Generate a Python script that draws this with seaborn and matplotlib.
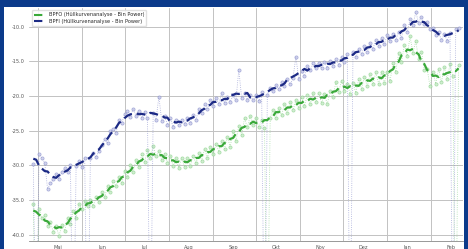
import pandas as pd
import seaborn as sns
import matplotlib.pyplot as plt
import matplotlib.dates as mdates
from matplotlib.patches import Rectangle
from matplotlib.lines import Line2D
from matplotlib.ticker import FormatStrFormatter, FuncFormatter

# one reading every 2 days, starting 28 Apr; DROP = sensor dropout (far below the chart)
start = '2021-04-28'
DROP = -60.0

bpfi = [
    -29.8, DROP, -28.4, -28.9, -29.6, -33.4, -32.6, -32.0, -31.2, -31.9,
    -31.0, -30.4, -30.9, -30.0, DROP, -30.1, -29.4, -30.2, -28.9, DROP,
    -29.0, -28.2, -28.8, -27.9, -27.0, -26.2, -26.8, -25.1, -24.7, -25.3,
    -23.4, -23.9, -22.6, -22.2, -23.0, -21.8, -22.9, -22.1, -23.1, -22.3,
    -23.2, DROP, -22.4, -23.4, -20.1, -23.6, -22.9, -24.1, -23.2, -24.4,
    -23.5, -24.2, -23.4, -24.0, -23.1, -23.9, -22.8, -23.4, -21.9, -22.5,
    -21.2, -21.8, -20.6, -21.4, -20.3, -21.1, -19.6, -21.0, -20.1, -20.8,
    -19.9, -20.6, -16.2, -20.3, -19.6, -20.5, -19.8, -20.6, -19.9, -20.7,
    -19.4, DROP, -19.8, -18.8, -19.3, -18.4, -19.0, -18.0, -18.6, -17.6,
    -18.3, -17.4, -14.3, -17.6, -16.4, -17.1, -15.6, -16.3, -15.3, -16.0,
    -15.2, -16.0, -15.1, -15.9, -14.9, -15.6, -14.7, -15.5, -14.4, -15.1,
    -14.0, DROP, -13.6, -14.4, -13.2, -14.0, -12.8, -13.6, -12.3, -13.2,
    -11.9, -12.8, -11.6, -12.5, -11.2, -12.1, -11.0, -11.9, -10.7, -11.6,
    -9.8, -10.8, -8.9, -9.8, -7.9, -9.4, -8.6, -9.6, -9.3, -10.4,
    -10.2, -11.2, -10.8, -11.9, -11.1, -12.0, -10.9, DROP, -10.4, -10.2,
]

bpfo = [
    -35.6, DROP, -36.3, -37.6, -37.2, -38.8, -38.2, -39.6, -38.7, -40.2,
    -38.6, -39.4, -37.6, -38.5, -36.6, -37.6, -35.5, -36.3, -35.2, -35.9,
    -35.0, -35.8, -34.6, -35.3, -33.8, -34.6, -33.0, -33.8, -32.2, -33.0,
    -31.7, -32.6, -30.8, -31.7, -30.0, -30.9, -29.2, -30.2, -28.4, -29.5,
    -27.8, -28.9, -27.2, -28.7, -27.9, -29.2, -28.3, -29.6, -28.6, -30.1,
    -29.0, -30.3, -28.9, -30.2, -29.0, -30.1, -28.6, -29.7, -28.2, -29.3,
    -27.6, -28.9, -27.3, -28.4, -26.9, -28.0, -26.5, -27.6, -25.9, -27.3,
    -25.1, -26.5, -24.3, -25.6, -23.2, -24.5, -22.9, -24.1, -23.2, -24.5,
    -23.4, -24.6, DROP, -23.1, -22.0, -23.2, -21.7, -22.8, -21.1, -22.4,
    -20.9, -22.0, -20.6, -21.7, -20.2, -21.4, -19.9, -21.2, -19.6, -20.9,
    -19.5, -21.0, -19.7, -21.2, -19.3, -20.2, -18.0, -19.4, -17.8, -19.2,
    -18.2, -19.7, -18.1, -19.5, -17.6, -19.0, -17.2, -18.6, -16.8, -18.3,
    -16.6, -18.2, -16.6, -18.1, -16.5, -17.8, -15.3, -16.5, -13.8, -15.1,
    -12.6, -14.2, -11.4, -13.8, -12.1, -14.6, -13.6, -16.2, -16.1, -18.6,
    -16.5, -18.2, -16.1, -18.0, -15.8, -17.6, -15.4, -17.1, DROP, -15.5,
]

labels = ['BPFO (Hüllkurvenanalyse - Bin Power)', 'BPFI (Hüllkurvenanalyse - Bin Power)']
months_de = ['Jan', 'Feb', 'Mär', 'Apr', 'Mai', 'Jun', 'Jul', 'Aug', 'Sep', 'Okt', 'Nov', 'Dez']

dates = pd.date_range(start, periods=len(bpfi), freq='2D')
df = pd.DataFrame({'date': dates, 'bpfo': bpfo, 'bpfi': bpfi})
for col in ['bpfo', 'bpfi']:
    valid = df[col].where(df[col] > -45)
    df[col + '_smooth'] = valid.rolling(7, center=True, min_periods=1).mean()

sns.set_style('white')
fig = plt.figure(figsize=(4.68, 2.49), dpi=100, facecolor='#0b3a8a')
fig.patches.append(Rectangle((0.009, 0), 0.982, 0.972, transform=fig.transFigure,
                             facecolor='white', edgecolor='none', zorder=-5))
ax = fig.add_axes([0.062, 0.032, 0.927, 0.936])
ax.set_zorder(2)

green, green_light = '#3aa93a', '#8ed48e'
navy, navy_light = '#1c2a85', '#8a90cc'

# raw readings
sns.lineplot(data=df, x='date', y='bpfo', ax=ax, color=green_light, lw=0.6, linestyle=':',
             marker='o', markersize=2.3, markeredgewidth=0.5, markeredgecolor=green_light,
             markerfacecolor='#c4e8c4', alpha=0.75)
sns.lineplot(data=df, x='date', y='bpfi', ax=ax, color=navy_light, lw=0.6, linestyle=':',
             marker='o', markersize=2.3, markeredgewidth=0.5, markeredgecolor=navy_light,
             markerfacecolor='#c6c9e8', alpha=0.75)
# smoothed trend
sns.lineplot(data=df, x='date', y='bpfo_smooth', ax=ax, color=green, lw=1.6, dashes=(4, 2.2))
sns.lineplot(data=df, x='date', y='bpfi_smooth', ax=ax, color=navy, lw=1.6, dashes=(4, 2.2))

ax.set_ylim(-40.9, -7.3)
ax.set_xlim(pd.Timestamp('2021-04-25'), pd.Timestamp('2022-02-23'))
ax.set_yticks([-10, -15, -20, -25, -30, -35, -40])
ax.yaxis.set_major_formatter(FormatStrFormatter('%.1f'))
ax.xaxis.set_major_locator(mdates.MonthLocator(bymonthday=15))
ax.xaxis.set_minor_locator(mdates.MonthLocator())
ax.xaxis.set_major_formatter(FuncFormatter(lambda v, p: months_de[mdates.num2date(v).month - 1]))
ax.grid(True, axis='x', which='minor', color='#c2c2c2', lw=0.7)
ax.grid(True, axis='y', which='major', color='#c2c2c2', lw=0.7)
ax.tick_params(axis='both', which='major', labelsize=3.6, colors='#555555', length=2, width=0.5, pad=1)
ax.tick_params(axis='x', which='minor', length=0)
ax.set_xlabel('')
ax.set_ylabel('')
for side in ['top', 'right', 'left']:
    ax.spines[side].set_visible(False)
ax.spines['bottom'].set_color('#888888')
ax.spines['bottom'].set_linewidth(0.6)

handles = [Line2D([], [], color=green, lw=1.5, dashes=(4, 2.2)),
           Line2D([], [], color=navy, lw=1.5, dashes=(4, 2.2))]
ax.legend(handles, labels, loc='upper left', fontsize=3.6, frameon=True, framealpha=0.9,
          edgecolor='#dddddd', handlelength=2.2, borderpad=0.4, labelspacing=0.3,
          bbox_to_anchor=(0.0, 1.0))

fig.savefig('out.png', dpi=100, facecolor=fig.get_facecolor())
